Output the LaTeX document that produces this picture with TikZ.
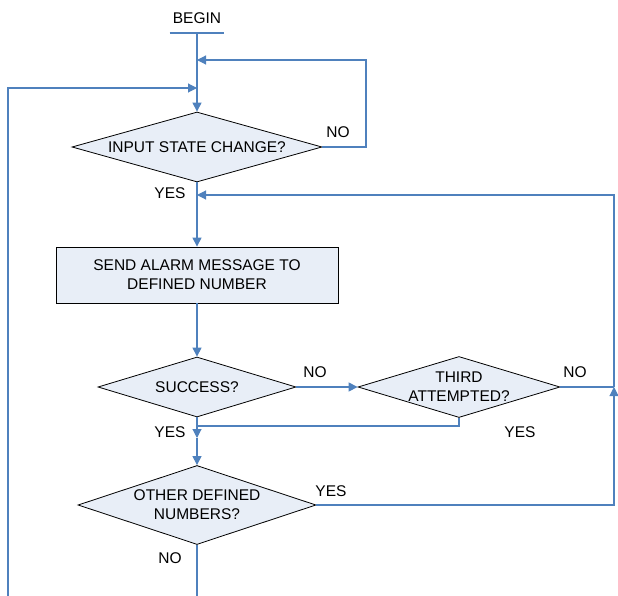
\documentclass[tikz,border=0pt]{standalone}
\usepackage{fontspec}
\setmainfont{Liberation Sans}
\usetikzlibrary{shapes.geometric, arrows.meta}
\definecolor{FlowBlue}{HTML}{4F81BD}
\definecolor{FlowFill}{HTML}{E8EEF7}

\begin{document}
\begin{tikzpicture}[
    x=1pt, y=-1pt,
    font=\fontsize{15.5}{19}\selectfont,
    decision/.style={diamond, draw=black, line width=0.8pt, fill=FlowFill, inner sep=0pt},
    process/.style={rectangle, draw=black, line width=0.8pt, fill=FlowFill, align=center},
    answer/.style={inner sep=0pt},
    flow/.style={FlowBlue, line width=1.1pt},
    every label/.style={align=center},
    >={Triangle[length=9pt,width=9pt]}
    ]
    \useasboundingbox (0,0) rectangle (618,596);

    % blocks
    \node[anchor=south, inner xsep=3pt, inner ysep=9pt] (begin) at (197,33) {BEGIN};
    \node[decision, minimum width=250pt, minimum height=70pt,
          label={center:INPUT STATE CHANGE?}] (input) at (197,147) {};
    \node[process, minimum width=282pt, minimum height=56pt] (send) at (197,275)
          {SEND ALARM MESSAGE TO\\DEFINED NUMBER};
    \node[decision, minimum width=198pt, minimum height=60pt,
          label={center:SUCCESS?}] (success) at (197,387) {};
    \node[decision, minimum width=202pt, minimum height=61pt,
          label={center:THIRD\\ATTEMPTED?}] (third) at (459,387) {};
    \node[decision, minimum width=238pt, minimum height=79pt,
          label={center:OTHER DEFINED\\NUMBERS?}] (other) at (197,505) {};

    % answers
    \node[answer] (inputno) at (338,132) {NO};
    \node[answer] (inputyes) at (170,193) {YES};
    \node[answer] (successno) at (315,372) {NO};
    \node[answer] (successyes) at (170,432) {YES};
    \node[answer] (thirdno) at (575,372) {NO};
    \node[answer] (thirdyes) at (520,432) {YES};
    \node[answer] (otheryes) at (331,491) {YES};
    \node[answer] (otherno) at (170,558) {NO};

    % joints
    \coordinate (loopin) at (197,60);
    \coordinate (loopright) at (366,60);
    \coordinate (backin) at (197,88);
    \coordinate (backbottom) at (8,596);
    \coordinate (retryin) at (197,195);
    \coordinate (retryright) at (614,195);
    \coordinate (rightjoin) at (614,387);
    \coordinate (yesjoin) at (197,426);
    \coordinate (yesmark) at (197,438);
    \coordinate (otherbottom) at (197,596);

    \begin{scope}[flow]
        \draw (begin.south west) -- (begin.south east);
        \draw[->] (begin.south) -- (input.north);
        \draw[->] (input.east) -| (loopright) -- (loopin);
        \draw[->] (backbottom) |- (backin);
        \draw[->] (input.south) -- (send.north);
        \draw[->] (send.south) -- (success.north);
        \draw[->] (success.east) -- (third.west);
        \draw (third.south) |- (yesjoin);
        \draw[->] (success.south) -- (yesmark);
        \draw[->] (yesmark) -- (other.north);
        \draw (third.east) -- (rightjoin);
        \draw[->] (other.east) -| (rightjoin);
        \draw[->] (rightjoin) -- (retryright) -- (retryin);
        \draw (other.south) -- (otherbottom);
    \end{scope}

\end{tikzpicture}
\end{document}
